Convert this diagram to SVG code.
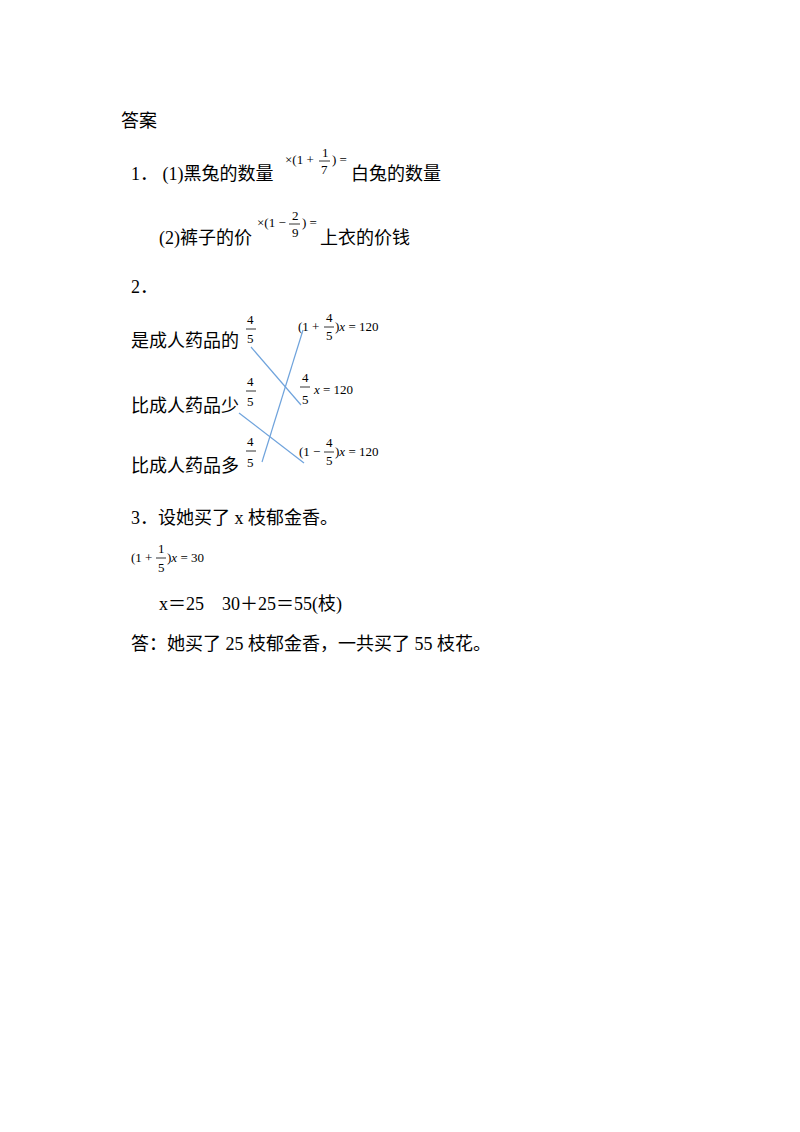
<svg xmlns="http://www.w3.org/2000/svg" width="800" height="1132" viewBox="0 0 800 1132">
<style>
text{font-family:"Liberation Serif","Noto Sans CJK SC",serif;fill:#000}
.t{font-size:18px}
.s{font-size:13px}
.i{font-style:italic}
.c line{stroke:#6fa3dc;stroke-width:1.2}
.b{stroke:#000;stroke-width:0.8}
</style>
<rect width="800" height="1132" fill="#fff"/>
<g id="title"><text class="t" x="121" y="127">答案</text></g>
<g id="q1">
<text class="t" x="131" y="180">1．  (1)黑兔的数量</text>
<text class="s" x="285" y="164">×(1 +</text>
<text class="s" x="322" y="157">1</text><line class="b" x1="319" y1="161" x2="330" y2="161"/><text class="s" x="321" y="174">7</text>
<text class="s" x="332" y="164">) =</text>
<text class="t" x="351" y="180">白兔的数量</text>
<text class="t" x="159" y="244">(2)裤子的价</text>
<text class="s" x="257" y="227">×(1 −</text>
<text class="s" x="292" y="220">2</text><line class="b" x1="289" y1="224" x2="300" y2="224"/><text class="s" x="292" y="237">9</text>
<text class="s" x="302" y="227">) =</text>
<text class="t" x="320" y="244">上衣的价钱</text>
</g>
<g id="q2">
<text class="t" x="131" y="293">2．</text>
<text class="t" x="131" y="347">是成人药品的</text>
<text class="s" x="247" y="324">4</text><line class="b" x1="246" y1="329" x2="256" y2="329"/><text class="s" x="247" y="343">5</text>
<text class="t" x="131" y="412">比成人药品少</text>
<text class="s" x="247" y="386">4</text><line class="b" x1="246" y1="391" x2="256" y2="391"/><text class="s" x="247" y="406">5</text>
<text class="t" x="131" y="472">比成人药品多</text>
<text class="s" x="247" y="446">4</text><line class="b" x1="246" y1="451" x2="256" y2="451"/><text class="s" x="247" y="467">5</text>
<text class="s" x="298" y="331">(1 +</text>
<text class="s" x="326" y="322">4</text><line class="b" x1="324" y1="327" x2="334" y2="327"/><text class="s" x="326" y="340">5</text>
<text class="s" x="335" y="331">)<tspan class="i">x</tspan> = 120</text>
<text class="s" x="302" y="382">4</text><line class="b" x1="300" y1="387" x2="310" y2="387"/><text class="s" x="302" y="404">5</text>
<text class="s" x="314" y="394"><tspan class="i">x</tspan> = 120</text>
<text class="s" x="299" y="456">(1 −</text>
<text class="s" x="326" y="447">4</text><line class="b" x1="324" y1="452" x2="334" y2="452"/><text class="s" x="326" y="465">5</text>
<text class="s" x="335" y="456">)<tspan class="i">x</tspan> = 120</text>
</g>
<g id="connectors" class="c">
<line x1="251" y1="347" x2="301" y2="405"/>
<line x1="239" y1="413" x2="304" y2="463"/>
<line x1="262" y1="462" x2="303" y2="330"/>
</g>
<g id="q3">
<text class="t" x="131" y="524">3．设她买了 x 枝郁金香。</text>
<text class="s" x="131" y="562">(1 +</text>
<text class="s" x="158" y="553">1</text><line class="b" x1="156" y1="558" x2="166" y2="558"/><text class="s" x="158" y="572">5</text>
<text class="s" x="167" y="562">)<tspan class="i">x</tspan> = 30</text>
<text class="t" x="159" y="610">x＝25　30＋25＝55(枝)</text>
<text class="t" x="131" y="650">答：她买了 25 枝郁金香，一共买了 55 枝花。</text>
</g>
</svg>
